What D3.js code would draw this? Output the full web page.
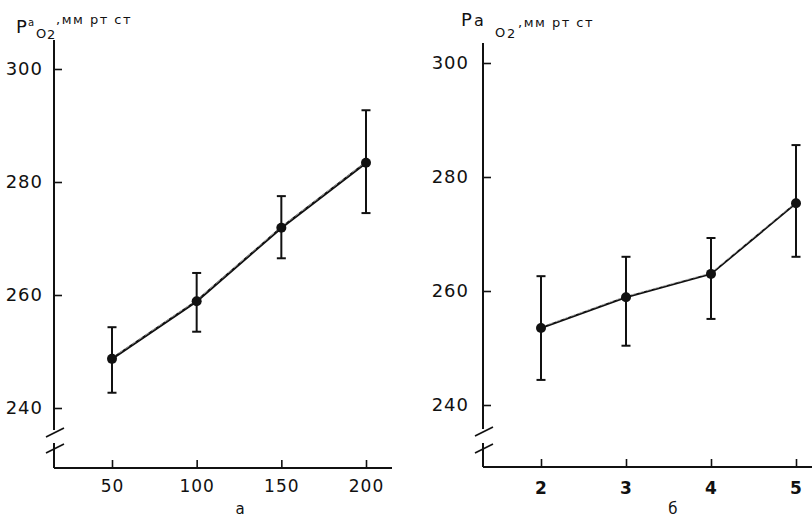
<!DOCTYPE html>
<html lang="ru">
  <head>
    <meta charset="UTF-8" />
    <title>PaO2 — два графика</title>
    <script src="https://d3js.org/d3.v7.min.js"></script>
    <style>
      body {
        margin: 0;
        padding: 0;
        background: #fff;
      }
      svg text {
        font-family: "DejaVu Sans", "Liberation Sans", sans-serif;
        fill: #111;
      }
    </style>
  </head>
  <body>
    <div id="chart"></div>

    <script>
      const width = 812;
      const height = 519;

      // panel "а": dose on x
      const xValuesA = [50, 100, 150, 200];
      const meanA = [248.7, 258.9, 271.9, 283.4];
      const lowA = [242.7, 253.5, 266.5, 274.5];
      const highA = [254.3, 263.9, 277.5, 292.7];

      // panel "б"
      const xValuesB = [2, 3, 4, 5];
      const meanB = [253.5, 258.9, 263.0, 275.4];
      const lowB = [244.4, 250.4, 255.1, 266.0];
      const highB = [262.6, 266.0, 269.3, 285.6];

      const yTicks = [240, 260, 280, 300];

      const svg = d3
        .select("#chart")
        .append("svg")
        .attr("width", width)
        .attr("height", height);

      function drawPanel(p) {
        const g = svg.append("g");
        const x = d3.scaleLinear().domain(p.xDomain).range(p.xRange);
        const y = d3.scaleLinear().domain([240, 300]).range(p.yRange);

        // y axis line with a break
        g.append("line")
          .attr("x1", p.axisX).attr("x2", p.axisX)
          .attr("y1", p.axisTop).attr("y2", p.breakTop)
          .attr("stroke", "#111").attr("stroke-width", 2);
        g.append("line")
          .attr("x1", p.axisX).attr("x2", p.axisX)
          .attr("y1", p.breakBottom).attr("y2", p.axisY)
          .attr("stroke", "#111").attr("stroke-width", 2);
        [p.breakTop + 3, p.breakBottom + 6].forEach((cy) => {
          g.append("line")
            .attr("x1", p.axisX - 8).attr("y1", cy + 4)
            .attr("x2", p.axisX + 10).attr("y2", cy - 5)
            .attr("stroke", "#111").attr("stroke-width", 1.6);
        });

        // x axis line
        g.append("line")
          .attr("x1", p.axisX).attr("x2", p.axisRight)
          .attr("y1", p.axisY).attr("y2", p.axisY)
          .attr("stroke", "#111").attr("stroke-width", 2);

        const yAxis = d3
          .axisLeft(y)
          .tickValues(yTicks)
          .tickSize(-8)
          .tickPadding(p.yPad);
        const ya = g.append("g")
          .attr("transform", `translate(${p.axisX},0)`)
          .call(yAxis);
        ya.select(".domain").remove();
        ya.selectAll("line").attr("stroke", "#111").attr("stroke-width", 1.6);
        ya.selectAll("text")
          .attr("font-size", 18)
          .attr("letter-spacing", 1)
          .attr("font-family", "DejaVu Sans");

        const xAxis = d3
          .axisBottom(x)
          .tickValues(p.xValues)
          .tickFormat(d3.format("d"))
          .tickSize(-8)
          .tickPadding(p.xPad);
        const xa = g.append("g")
          .attr("transform", `translate(0,${p.axisY})`)
          .call(xAxis);
        xa.select(".domain").remove();
        xa.selectAll("line").attr("stroke", "#111").attr("stroke-width", 1.6);
        xa.selectAll("text")
          .attr("font-size", 17)
          .attr("font-weight", p.xBold ? "bold" : "normal")
          .attr("letter-spacing", 1)
          .attr("font-family", "DejaVu Sans");

        const pts = p.xValues.map((v, i) => ({
          x: v,
          m: p.mean[i],
          lo: p.low[i],
          hi: p.high[i],
        }));

        const line = d3.line().x((d) => x(d.x)).y((d) => y(d.m));
        g.append("path")
          .datum(pts)
          .attr("d", line)
          .attr("fill", "none")
          .attr("stroke", "#111")
          .attr("stroke-width", p.lineWidth);
        g.append("path")
          .datum(pts)
          .attr("d", line)
          .attr("transform", "translate(0,-1)")
          .attr("fill", "none")
          .attr("stroke", "#bbb")
          .attr("stroke-width", 0.8)
          .attr("stroke-dasharray", "5,3");

        // error bars
        const bars = g.selectAll(".err").data(pts).enter().append("g");
        bars.append("line")
          .attr("x1", (d) => x(d.x)).attr("x2", (d) => x(d.x))
          .attr("y1", (d) => y(d.hi)).attr("y2", (d) => y(d.lo))
          .attr("stroke", "#111").attr("stroke-width", 2);
        bars.append("line")
          .attr("x1", (d) => x(d.x) - 4.5).attr("x2", (d) => x(d.x) + 4.5)
          .attr("y1", (d) => y(d.hi)).attr("y2", (d) => y(d.hi))
          .attr("stroke", "#111").attr("stroke-width", 2);
        bars.append("line")
          .attr("x1", (d) => x(d.x) - 4.5).attr("x2", (d) => x(d.x) + 4.5)
          .attr("y1", (d) => y(d.lo)).attr("y2", (d) => y(d.lo))
          .attr("stroke", "#111").attr("stroke-width", 2);
        bars.append("circle")
          .attr("cx", (d) => x(d.x))
          .attr("cy", (d) => y(d.m))
          .attr("r", 5)
          .attr("fill", "#111");

        // panel letter
        g.append("text")
          .attr("x", p.letterX)
          .attr("y", 514)
          .attr("text-anchor", "middle")
          .attr("font-size", 15)
          .text(p.letter);

        // y title: Pa O2, мм рт ст
        const t = p.title;
        g.append("text").attr("x", t.pX).attr("y", t.pY)
          .attr("font-size", 18).text("P");
        g.append("text").attr("x", t.aX).attr("y", t.aY)
          .attr("font-size", t.aSize).text("a");
        g.append("text").attr("x", t.oX).attr("y", t.oY)
          .attr("font-size", 13).text("O");
        g.append("text").attr("x", t.twoX).attr("y", t.oY + 1)
          .attr("font-size", 13).text("2");
        g.append("text").attr("x", t.unitX).attr("y", t.unitY)
          .attr("font-size", 13)
          .attr("letter-spacing", 1.5)
          .text(",мм рт ст");
      }

      drawPanel({
        xValues: xValuesA,
        mean: meanA,
        low: lowA,
        high: highA,
        xDomain: [50, 200],
        xRange: [112, 366],
        yRange: [408, 69],
        axisX: 54,
        axisTop: 40,
        breakTop: 430,
        breakBottom: 443,
        axisY: 468,
        axisRight: 392,
        yPad: 11,
        xPad: 12,
        xBold: false,
        lineWidth: 2.4,
        letter: "а",
        letterX: 240,
        title: {
          pX: 16, pY: 33, aX: 28, aY: 26, aSize: 10,
          oX: 36, oY: 38, twoX: 47, unitX: 56, unitY: 24,
        },
      });

      drawPanel({
        xValues: xValuesB,
        mean: meanB,
        low: lowB,
        high: highB,
        xDomain: [2, 5],
        xRange: [541, 796],
        yRange: [405, 63],
        axisX: 483,
        axisTop: 43,
        breakTop: 429,
        breakBottom: 443,
        axisY: 467,
        axisRight: 812,
        yPad: 14,
        xPad: 15,
        xBold: true,
        lineWidth: 2,
        letter: "б",
        letterX: 673,
        title: {
          pX: 461, pY: 26, aX: 474, aY: 26, aSize: 16,
          oX: 495, oY: 37, twoX: 507, unitX: 518, unitY: 27,
        },
      });
    </script>
  </body>
</html>
